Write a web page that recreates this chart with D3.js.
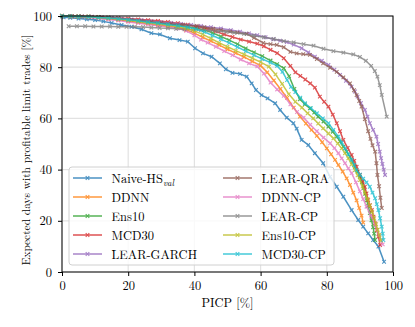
<!DOCTYPE html>
<html>
<head>
<meta charset="utf-8">
<script src="https://cdn.jsdelivr.net/npm/d3@7"></script>
<style>
  body { margin: 0; background: #fff; }
</style>
</head>
<body>
<div id="chart"></div>
<script>
// series, in legend order (column-major)
var names = ["Naive-HS", "DDNN", "Ens10", "MCD30", "LEAR-GARCH",
             "LEAR-QRA", "DDNN-CP", "LEAR-CP", "Ens10-CP", "MCD30-CP"];
var colors = ["#1f77b4", "#ff7f0e", "#2ca02c", "#d62728", "#9467bd",
              "#8c564b", "#e377c2", "#7f7f7f", "#bcbd22", "#17becf"];

var naiveHS = [[0.5,99.5],[2.5,99.3],[5,99],[7.5,98.7],[10,98.4],[12.5,97.9],[15,97.3],[18,96.5],[21,95.8],[24,94.8],[27,93.3],[29.6,92.8],[32.6,91.3],[35.5,90.6],[38,90],[40.2,87.4],[42.6,85.4],[45.2,84.1],[47.7,81.5],[49.5,79.2],[51.5,77.8],[53.8,77.4],[55.8,76.3],[57.3,73.7],[58.6,71.1],[60.3,69.1],[62.1,67.8],[64.4,65.9],[65.9,63.3],[67.9,60.3],[69.9,58.1],[70.9,56],[72.4,51.6],[74.4,49.6],[76.4,46.4],[78.9,42.5],[81,37.2],[83,33.3],[85,29.4],[87.5,24.2],[89.5,20.3],[91,17.7],[92.5,15.1],[94,12.5],[95.6,9.9],[97.3,4]];
var ddnn = [[0,100],[2.5,99.9],[5,99.8],[8,99.6],[11,99.3],[14,98.9],[17,98.5],[20,98],[23,97.5],[26,97],[29,96.5],[32,96],[35,95.5],[37.5,94.6],[40,93.3],[42.5,91.7],[45,90.2],[47.5,88.6],[50,87],[52.5,85.5],[55,84],[57.5,82.3],[60,80.6],[62,78],[64,74.8],[66,71.5],[68,68],[70,64.2],[71.9,60.7],[73.7,58],[75.4,55.5],[77,53.2],[78.6,50.7],[80,48.3],[81.3,46],[82.5,43.8],[83.5,41.8],[84.8,39.2],[86,36.6],[87,34],[88,31],[89,28],[89.8,25],[90.5,22],[91,19.3]];
var ens10 = [[0,100],[2.5,99.9],[5,99.8],[8,99.7],[11,99.5],[14,99.3],[17,99],[20,98.6],[23,98.2],[26,97.8],[29,97.4],[32,96.9],[35,96.4],[38,95.8],[40.5,95.3],[43,94.5],[45.5,93.4],[48,92],[50.5,90.6],[53,89],[55.5,87.3],[58,85.8],[60.5,84.3],[63,82.6],[65,81.2],[67,79.6],[68.6,76.5],[70.2,71.5],[71.9,67.5],[73.4,65.5],[74.9,63.9],[76.2,62.3],[77.4,60.7],[79,58.8],[80.5,56.8],[81.8,54.8],[83,52.9],[84,51],[85,49],[86,47],[87,45],[87.8,43],[88.5,41.1],[89.3,39.2],[90,37.2],[90.6,35],[91.1,32.8],[91.6,30.5],[92.1,28],[92.5,25.8],[93,23],[93.5,20.2],[94,17.5],[94.3,15],[94.6,12.5]];
var mcd30 = [[0,100],[2.5,99.9],[5,99.9],[8,99.8],[11,99.6],[14,99.4],[17,99.2],[20,99],[23,98.7],[26,98.4],[29,98.1],[32,97.7],[35,97.2],[38,96.6],[41,95.8],[44,95],[46.5,94],[49,92.8],[51.5,91.8],[54,90.8],[56.5,90],[59,89.2],[61,88.2],[63,86.8],[65,85.5],[67,83.5],[69,80.5],[70.5,78],[72,76.6],[73.5,75.2],[75,73.7],[76.4,72],[77.9,68.5],[79.2,66.5],[80.5,64.6],[81.8,61.5],[83,58.1],[84,55],[85,51.6],[86.3,48.5],[87.5,45.7],[88.3,43.4],[89,41.1],[90,37.9],[90.8,35.5],[91.5,33.3],[92,30.7],[92.5,28.1],[93,26.1],[93.6,24.2],[94.1,21.6],[94.6,19],[95.1,16.4],[95.6,13.8],[96.1,10.5]];
var learGarch = [[0,100],[3,99.9],[6,99.8],[9,99.7],[12,99.5],[15,99.3],[18,99],[21,98.7],[24,98.4],[27,98],[30,97.6],[33,97.3],[36,96.9],[39,96.5],[42,96.1],[45,95.6],[48,95.1],[51,94.5],[53.8,93.9],[56.5,93.2],[59,92.5],[61.5,91.7],[63.8,90.9],[65.9,90.4],[67.9,89.8],[70,88.8],[72.4,87.4],[74.4,85.8],[76.4,84.1],[78.5,82.5],[80.5,80.9],[82.3,79],[84,77],[85.8,74.7],[87.5,72.4],[88.5,70.5],[89.3,68.5],[90.3,66],[91.5,63.3],[92.3,60.7],[93,58.1],[94,55.5],[95,52.9],[95.5,50],[96,47],[96.4,44.5],[96.8,42.2],[97.2,40],[97.6,37.9]];
var learQra = [[0,100],[3,99.9],[6,99.8],[9,99.6],[12,99.4],[15,99.1],[18,98.8],[21,98.5],[24,98.1],[27,97.7],[30,97.3],[33,96.9],[36.6,96.6],[40.7,96.1],[43,95.6],[45.7,95],[48,94.5],[50.8,93.9],[53,93.5],[55.8,93],[58,91.5],[60.8,89.5],[63,89],[64.9,88.7],[67,87.8],[69,86],[70.9,85.4],[72.9,85.1],[74.9,84.8],[77,83.2],[78.9,81.5],[81,79.8],[83,78.2],[85,76],[87,73.7],[88.2,71],[89,69.1],[89.8,66.8],[90.5,64.6],[91.5,59.7],[92.5,55],[93.2,52],[93.8,49.5],[94.6,47],[95,42.5],[95.3,37.9],[95.8,33.5],[96.2,29],[96.6,25]];
var ddnnCp = [[0,100],[2.5,99.9],[5,99.8],[8,99.5],[11,99.1],[14,98.6],[17,98.2],[20,97.7],[23,97.2],[26,96.7],[29,96.2],[32,95.8],[35,95.2],[37.5,94.2],[40,92.5],[42,90.8],[44,89.6],[46.5,88],[49,86.3],[51.5,84.7],[54,83],[56.5,81.5],[59,80.3],[61,77.5],[63,74],[65,71.3],[67,68.8],[69,65.5],[71,62.5],[73,60.3],[75,57.5],[77,55],[79,52.5],[81,50.3],[82.3,48.4],[83.5,46.4],[84.5,44.4],[85.5,42.5],[86.5,40.5],[87.5,38.6],[88.8,35],[90,31.5],[91,28.5],[92,25.5],[93.3,22],[94.6,18.4],[95.8,14.5],[96.9,10.8]];
var learCp = [[2,96],[4.5,96],[7,96],[9.5,95.9],[12,95.9],[14.5,95.9],[17,95.8],[19.5,95.8],[22,95.8],[24.5,95.7],[27,95.5],[29.5,95.3],[32,95.2],[34.5,95],[37,94.8],[39.5,94.6],[42,94.5],[44.5,94.3],[47,94],[49.5,93.8],[52,93.5],[55,93],[58,92.3],[61,91.7],[64,91],[67,90.2],[70,89.7],[73,89],[76,88.4],[79,87.2],[82,86.3],[85,85.7],[88,85],[90,84],[91.8,82.5],[93.4,80.5],[94.5,78.5],[95.3,76.3],[96,73],[96.6,69.2],[98.1,60.7]];
var ens10Cp = [[0,100],[2.5,99.9],[5,99.8],[8,99.7],[11,99.4],[14,99.1],[17,98.7],[20,98.3],[23,97.8],[26,97.3],[29,96.9],[32,96.4],[35,95.8],[37.5,95.2],[40,94.2],[42.5,92.8],[45,91.2],[47.5,89.5],[50,88],[52.5,86.5],[55,85],[57.5,83.5],[60,82],[62.5,80.2],[64.5,77.2],[66.5,73.5],[68.5,69.5],[70.5,66.5],[72.5,64.2],[74.2,62],[75.9,60],[77.4,58],[78.9,56.1],[80.5,54.1],[82,52.2],[83.3,50.2],[84.5,48.3],[85.5,46.4],[86.5,44.4],[87.5,42.1],[88.5,39.8],[89.3,37.8],[90,35.9],[90.8,33.4],[91.5,31],[92.3,28.5],[93,26],[93.7,23.5],[94.3,21],[94.9,18.7],[95.4,16.5],[95.9,14.4],[96.4,12.3]];
var mcd30Cp = [[0,100],[2.5,99.9],[5,99.8],[8,99.7],[11,99.4],[14,99.2],[17,98.9],[20,98.5],[23,98.1],[26,97.6],[29,97.2],[32,96.7],[35,96.2],[38,95.6],[40.5,94.9],[43,93.8],[45.5,92.4],[48,90.9],[50.5,89.5],[53,87.9],[55.5,86.3],[58,84.7],[60.5,83.2],[63,81.8],[65,80.5],[66.6,78.2],[68,75],[69.2,72.3],[70.5,70.3],[72,68.1],[73.4,65.9],[75.2,64],[77,62],[78.8,60],[80.5,58.1],[82,55.5],[83.5,52.9],[84.5,50.6],[85.5,48.3],[86.5,46],[87.5,43.8],[88.3,41.8],[89,39.8],[90,38],[91,36.5],[92,35],[93,33.3],[93.8,31],[94.6,28.8],[95.1,26.5],[95.6,24.2],[96.1,21],[96.6,17.7],[96.9,15],[97.1,12.5]];

var seriesData = [naiveHS, ddnn, ens10, mcd30, learGarch, learQra, ddnnCp, learCp, ens10Cp, mcd30Cp];
var xTicks = [0, 20, 40, 60, 80, 100];
var yTicks = [0, 20, 40, 60, 80, 100];

var FONT = "'Latin Modern Roman', 'Liberation Serif', serif";
var W = 415, H = 327;
var margin = {left: 62, right: 22, top: 16, bottom: 55};
var iw = W - margin.left - margin.right,
    ih = H - margin.top - margin.bottom;

var svg = d3.select("#chart").append("svg")
    .attr("width", W).attr("height", H);
svg.append("rect").attr("width", W).attr("height", H).attr("fill", "#fff");

var g = svg.append("g").attr("transform", "translate(" + margin.left + "," + margin.top + ")");

var x = d3.scaleLinear().domain([0, 100]).range([0, iw]);
var y = d3.scaleLinear().domain([0, 100]).range([ih, 0]);

// grid
g.selectAll(".gx").data(xTicks).enter().append("line")
    .attr("x1", d => x(d)).attr("x2", d => x(d))
    .attr("y1", 0).attr("y2", ih)
    .attr("stroke", "#e2e2e2").attr("stroke-width", 1.2);
g.selectAll(".gy").data(yTicks).enter().append("line")
    .attr("x1", 0).attr("x2", iw)
    .attr("y1", d => y(d)).attr("y2", d => y(d))
    .attr("stroke", "#e2e2e2").attr("stroke-width", 1.2);

// series
var line = d3.line().x(d => x(d[0])).y(d => y(d[1]));
var marker = d3.symbol().type(d3.symbolTimes).size(10);

seriesData.forEach(function(s, i) {
    var sg = g.append("g").attr("opacity", 0.8);
    sg.append("path").datum(s)
        .attr("d", line)
        .attr("fill", "none")
        .attr("stroke", colors[i])
        .attr("stroke-width", 1.5);
    sg.selectAll("path.m").data(s).enter().append("path")
        .attr("class", "m")
        .attr("transform", d => "translate(" + x(d[0]) + "," + y(d[1]) + ")")
        .attr("d", marker)
        .attr("fill", "none")
        .attr("stroke", colors[i])
        .attr("stroke-width", 1.1);
});

// axes
var xAxis = g.append("g").attr("transform", "translate(0," + ih + ")")
    .call(d3.axisBottom(x).tickValues(xTicks).tickSize(4).tickPadding(5));
var yAxis = g.append("g")
    .call(d3.axisLeft(y).tickValues(yTicks).tickSize(4).tickPadding(6));
[xAxis, yAxis].forEach(function(a) {
    a.attr("font-family", null).attr("font-size", null);
    a.select(".domain").remove();
    a.selectAll("line").attr("stroke", "#000").attr("stroke-width", 1);
    a.selectAll("text").style("font-family", FONT).style("font-size", "12.5px");
});

g.append("rect").attr("width", iw).attr("height", ih)
    .attr("fill", "none").attr("stroke", "#000").attr("stroke-width", 1);

// axis titles
svg.append("text")
    .attr("x", margin.left + iw / 2).attr("y", 307)
    .attr("text-anchor", "middle")
    .style("font-family", FONT).style("font-size", "12.5px")
    .text("PICP [%]");
svg.append("text")
    .attr("transform", "translate(30,150) rotate(-90)")
    .attr("text-anchor", "middle")
    .style("font-family", FONT).style("font-size", "11.4px")
    .text("Expected days with profitable limit trades [%]");

// legend
var lg = svg.append("g");
lg.append("rect")
    .attr("x", 69).attr("y", 167).attr("width", 265).attr("height", 98)
    .attr("rx", 3)
    .attr("fill", "#fff").attr("fill-opacity", 0.8)
    .attr("stroke", "#d0d0d0").attr("stroke-width", 1);

names.forEach(function(n, i) {
    var col = Math.floor(i / 5), row = i % 5;
    var x0 = col === 0 ? 73 : 223;
    var yy = 178 + row * 19;
    var e = lg.append("g").attr("opacity", 0.8);
    e.append("line").attr("x1", x0).attr("x2", x0 + 29)
        .attr("y1", yy).attr("y2", yy)
        .attr("stroke", colors[i]).attr("stroke-width", 1.5);
    e.append("path").attr("transform", "translate(" + (x0 + 14.5) + "," + yy + ")")
        .attr("d", marker).attr("fill", "none")
        .attr("stroke", colors[i]).attr("stroke-width", 1.1);
    var t = lg.append("text").attr("x", x0 + 38.5).attr("y", yy + 4.5)
        .style("font-family", FONT).style("font-size", "12.5px");
    if (i === 0) {
        t.append("tspan").text("Naive-HS");
        t.append("tspan").attr("dy", 3).style("font-size", "9px")
            .style("font-style", "italic").text("val");
    } else {
        t.text(n);
    }
});
</script>
</body>
</html>
